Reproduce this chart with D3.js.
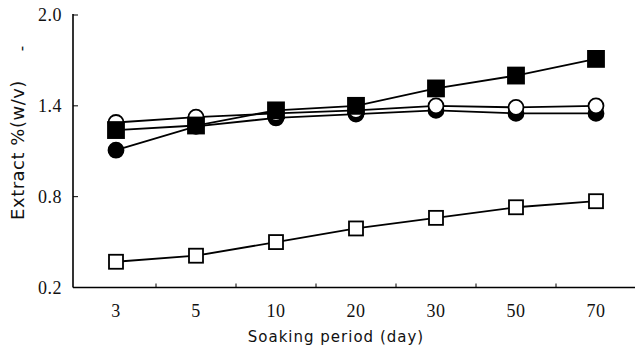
<!DOCTYPE html>
<html>
<head>
<meta charset="utf-8">
<script src="https://cdn.jsdelivr.net/npm/d3@7"></script>
<style>
  body { margin: 0; background: #fff; }
  .tick-label { font-family: "Liberation Serif", "DejaVu Serif", serif; font-size: 18px; fill: #111; letter-spacing: 0.5px; }
  .axis-title { font-family: "DejaVu Sans", sans-serif; font-size: 15px; fill: #111; letter-spacing: 1px; }
  .y-title { font-size: 18px; letter-spacing: 0.5px; }
</style>
</head>
<body>
<svg id="chart" width="635" height="353"></svg>
<script>
// data
var days = ["3", "5", "10", "20", "30", "50", "70"];
var yTicks = [0.2, 0.8, 1.4, 2.0];
var filledSquare = [1.24, 1.27, 1.37, 1.40, 1.515, 1.60, 1.71];
var openCircle   = [1.29, 1.325, 1.35, 1.37, 1.40, 1.39, 1.40];
var filledCircle = [1.107, 1.265, 1.32, 1.345, 1.37, 1.35, 1.35];
var openSquare   = [0.37, 0.41, 0.50, 0.59, 0.66, 0.73, 0.77];

var series = [
  {name: "openSquare", values: openSquare, shape: "square", fill: "#fff"},
  {name: "filledCircle", values: filledCircle, shape: "circle", fill: "#000"},
  {name: "openCircle", values: openCircle, shape: "circle", fill: "#fff"},
  {name: "filledSquare", values: filledSquare, shape: "square", fill: "#000"}
];

var svg = d3.select("#chart");
var margin = {top: 15, right: 0, bottom: 66, left: 73};
var width = +svg.attr("width") - margin.left - margin.right;
var height = +svg.attr("height") - margin.top - margin.bottom;

var g = svg.append("g")
  .attr("transform", "translate(" + margin.left + "," + margin.top + ")");

var x = d3.scalePoint()
  .domain(days)
  .range([43, 523]);

var y = d3.scaleLinear()
  .domain([0.2, 2.0])
  .range([height + 0.5, 0]);

// axes lines
g.append("line")
  .attr("x1", 0).attr("x2", 0)
  .attr("y1", y(2.0) - 1).attr("y2", y(0.2))
  .attr("stroke", "#000").attr("stroke-width", 1.6);
g.append("line")
  .attr("x1", 0).attr("x2", width)
  .attr("y1", y(0.2)).attr("y2", y(0.2))
  .attr("stroke", "#000").attr("stroke-width", 1.6);

// y ticks (inward)
g.selectAll(".ytick")
  .data(yTicks.slice(1))
  .enter().append("line")
  .attr("x1", 0).attr("x2", 5)
  .attr("y1", d => y(d)).attr("y2", d => y(d))
  .attr("stroke", "#000").attr("stroke-width", 1);

g.selectAll(".ylab")
  .data(yTicks)
  .enter().append("text")
  .attr("class", "tick-label")
  .attr("x", -11)
  .attr("y", d => y(d))
  .attr("dy", "0.35em")
  .attr("text-anchor", "end")
  .text(d => d3.format(".1f")(d));

// x ticks between categories
var step = x.step();
g.selectAll(".xtick")
  .data(days)
  .enter().append("line")
  .attr("x1", d => x(d) + step / 2).attr("x2", d => x(d) + step / 2)
  .attr("y1", y(0.2)).attr("y2", y(0.2) - 4)
  .attr("stroke", "#000").attr("stroke-width", 1);

g.selectAll(".xlab")
  .data(days)
  .enter().append("text")
  .attr("class", "tick-label")
  .attr("x", d => x(d))
  .attr("y", height + 30)
  .attr("text-anchor", "middle")
  .text(d => d);

// axis titles
svg.append("text")
  .attr("class", "axis-title y-title")
  .attr("transform", "translate(24,150) rotate(-90)")
  .attr("text-anchor", "middle")
  .text("Extract %(w/v)");
svg.append("text")
  .attr("class", "axis-title")
  .attr("transform", "translate(27,48) rotate(-90)")
  .attr("text-anchor", "middle")
  .text("-");

svg.append("text")
  .attr("class", "axis-title")
  .attr("x", 336)
  .attr("y", 342)
  .attr("text-anchor", "middle")
  .text("Soaking period (day)");

// lines
var line = d3.line()
  .x((d, i) => x(days[i]))
  .y(d => y(d));

g.selectAll(".series-line")
  .data(series)
  .enter().append("path")
  .attr("d", d => line(d.values))
  .attr("fill", "none")
  .attr("stroke", "#000")
  .attr("stroke-width", 1.8);

// markers
series.forEach(function(s) {
  var pts = s.values.map((v, i) => ({day: days[i], v: v}));
  if (s.shape === "square") {
    var sz = s.fill === "#000" ? 16 : 14;
    g.selectAll(".m-" + s.name)
      .data(pts)
      .enter().append("rect")
      .attr("x", d => x(d.day) - sz / 2)
      .attr("y", d => y(d.v) - sz / 2)
      .attr("width", sz).attr("height", sz)
      .attr("fill", s.fill)
      .attr("stroke", "#000").attr("stroke-width", 1.8);
  } else {
    g.selectAll(".m-" + s.name)
      .data(pts)
      .enter().append("circle")
      .attr("cx", d => x(d.day))
      .attr("cy", d => y(d.v))
      .attr("r", 7.5)
      .attr("fill", s.fill)
      .attr("stroke", "#000").attr("stroke-width", 1.8);
  }
});
</script>
</body>
</html>
